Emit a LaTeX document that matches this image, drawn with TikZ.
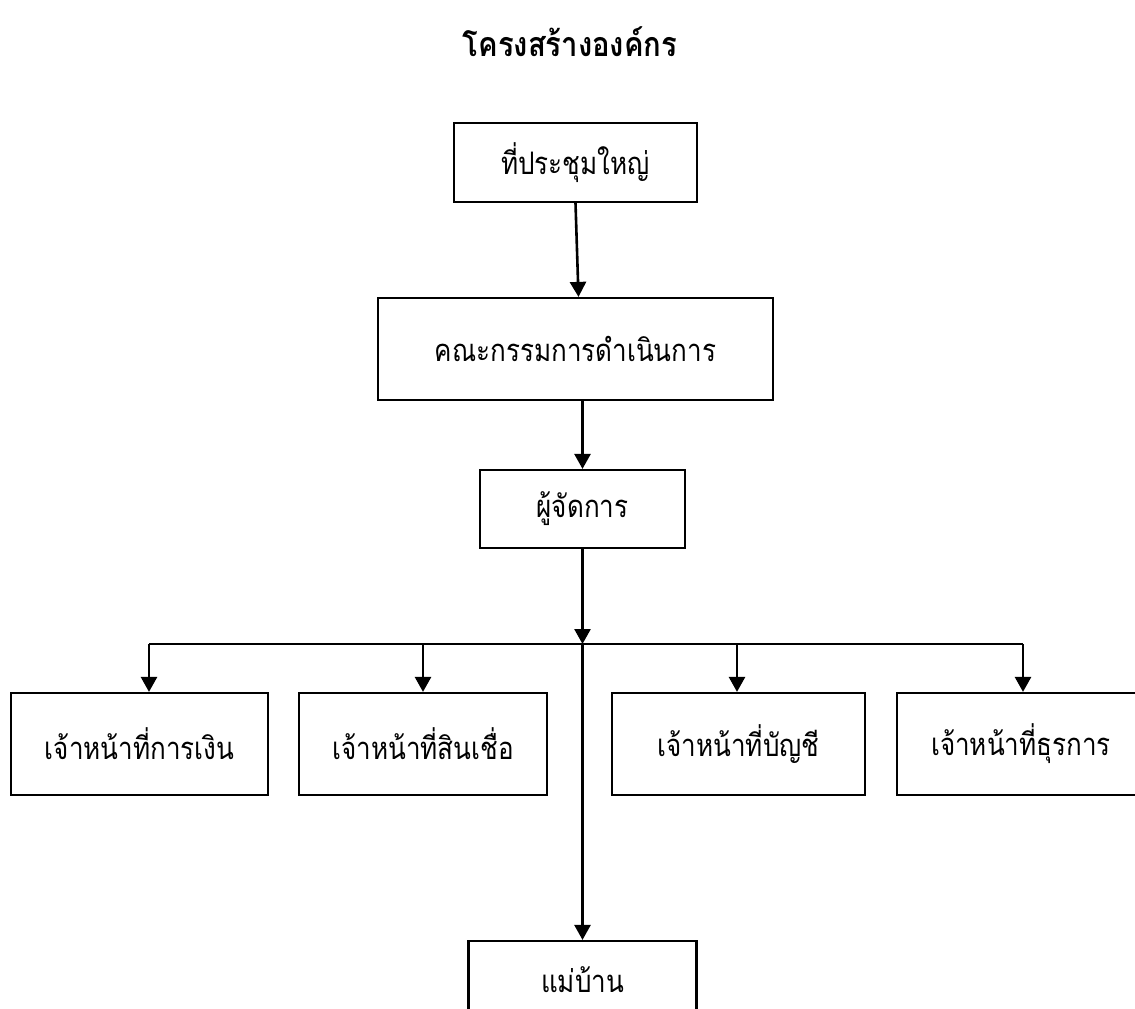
\documentclass[tikz,border=0pt]{standalone}
\usepackage{fontspec}
\newfontfamily\thaifont[Script=Thai,FakeStretch=0.84]{Loma}
\newfontfamily\thaititle[Script=Thai,FakeStretch=0.86]{Loma}
\usetikzlibrary{arrows.meta}
\begin{document}
\begin{tikzpicture}[x=1pt,y=-1pt,
  box/.style={draw=black,line width=2.2pt,minimum height=#1,inner sep=0pt,font=\thaifont\fontsize{31}{34}\selectfont},
  box/.default=102pt,
  arr/.style={line width=2.6pt,-{Triangle[width=16pt,length=15pt]}},
  ln/.style={line width=2.6pt}]
\useasboundingbox (0,0) rectangle (1135,1009);
\clip (0,0) rectangle (1135,1009);
\node (title) at (570,42) {\thaititle\bfseries\fontsize{34}{38}\selectfont โครงสร้างองค์กร};
\node[box=79pt,minimum width=243pt] (gm) at (575.5,162.5) {ที่ประชุมใหญ่};
\node[box=102pt,minimum width=395pt] (board) at (575.5,349) {คณะกรรมการดำเนินการ};
\node[box=78pt,minimum width=205pt] (mgr) at (582.5,509) {ผู้จัดการ};
\node[box=102pt,minimum width=257pt] (fin) at (139.5,744) {เจ้าหน้าที่การเงิน};
\node[box=102pt,minimum width=248pt] (credit) at (423,744) {เจ้าหน้าที่สินเชื่อ};
\node[box=102pt,minimum width=253pt] (acct) at (738.5,744) {เจ้าหน้าที่บัญชี};
\node[box=102pt,minimum width=248pt] (admin) at (1021,744) {เจ้าหน้าที่ธุรการ};
\node[box=78pt,minimum width=228pt] (maid) at (582.5,980) {แม่บ้าน};
\coordinate (bus) at (582.5,644);
\coordinate (b1) at (149,644);
\coordinate (b2) at (423,644);
\coordinate (b3) at (737,644);
\coordinate (b4) at (1023,644);
\draw[arr] (gm.south) -- ([xshift=3pt]board.north);
\draw[arr] (mgr.north |- board.south) -- (mgr.north);
\draw[arr] (mgr.south) -- (bus);
\draw[ln] (b1) -- (b4);
\draw[arr] (bus) -- (maid.north);
\draw[arr] (b1) -- (b1 |- fin.north);
\draw[arr] (b2) -- (b2 |- credit.north);
\draw[arr] (b3) -- (b3 |- acct.north);
\draw[arr] (b4) -- (b4 |- admin.north);
\end{tikzpicture}
\end{document}
